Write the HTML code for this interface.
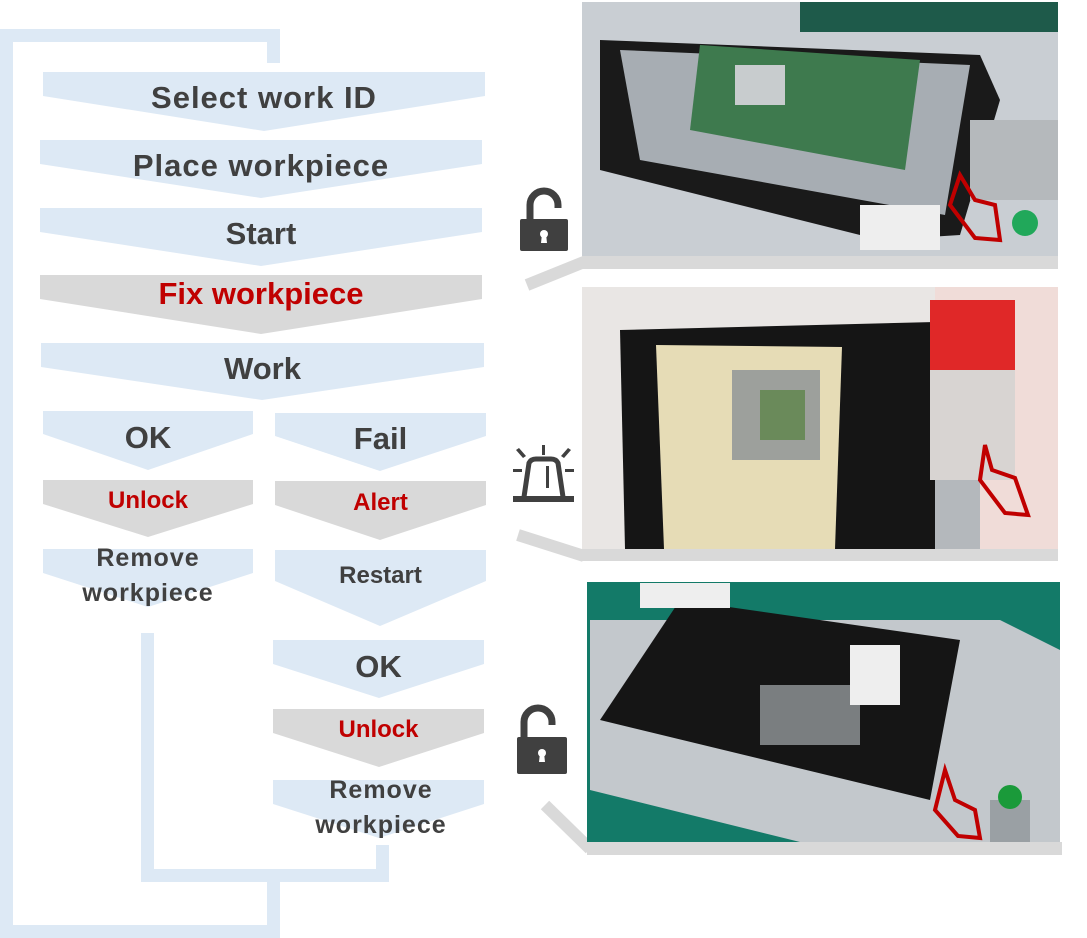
<!DOCTYPE html>
<html><head><meta charset="utf-8"><style>
body{margin:0;width:1087px;height:938px;background:#fff;overflow:hidden;position:relative;font-family:"Liberation Sans",sans-serif}
.c{position:absolute;display:flex;justify-content:center;font-weight:bold;color:#404040}
.b{position:absolute;background:#dde9f5}
</style></head><body>
<div class="b" style="left:0;top:29px;width:280px;height:13px"></div>
<div class="b" style="left:267px;top:29px;width:13px;height:34px"></div>
<div class="b" style="left:0;top:29px;width:13px;height:909px"></div>
<div class="b" style="left:0;top:925px;width:280px;height:13px"></div>
<div class="b" style="left:267px;top:869px;width:13px;height:69px"></div>
<div class="b" style="left:141px;top:633px;width:13px;height:249px"></div>
<div class="b" style="left:141px;top:869px;width:248px;height:13px"></div>
<div class="b" style="left:376px;top:845px;width:13px;height:37px"></div>

<svg width="1087" height="938" style="position:absolute;left:0;top:0">
<g fill="#dde9f5">
<polygon points="43,72 485,72 485,96 264,131 43,96"/>
<polygon points="40,140 482,140 482,164 261,198 40,164"/>
<polygon points="40,208 482,208 482,232 261,266 40,232"/>
<polygon points="41,343 484,343 484,367 262,400 41,367"/>
<polygon points="43,411 253,411 253,434 148,470 43,434"/>
<polygon points="275,413 486,413 486,436 380,471 275,436"/>
<polygon points="43,549 253,549 253,573 148,607 43,573"/>
<polygon points="275,550 486,550 486,581 380,626 275,581"/>
<polygon points="273,640 484,640 484,664 379,698 273,664"/>
<polygon points="273,780 484,780 484,804 379,838 273,804"/>
</g>
<g fill="#d9d9d9">
<polygon points="40,275 482,275 482,299 261,334 40,299"/>
<polygon points="43,480 253,480 253,504 148,537 43,504"/>
<polygon points="275,481 486,481 486,505 380,540 275,505"/>
<polygon points="273,709 484,709 484,733 379,767 273,733"/>
</g>
<g fill="#d9d9d9">
<rect x="582" y="256" width="476" height="13"/>
<rect x="582" y="549" width="476" height="12"/>
<rect x="587" y="842" width="475" height="13"/>
</g>
<g stroke="#d9d9d9" stroke-width="12" fill="none">
<line x1="527" y1="285" x2="584" y2="262"/>
<line x1="518" y1="535" x2="584" y2="556"/>
<polyline points="545,805 590,849"/>
</g>
<g>
<rect x="582" y="2" width="476" height="254" fill="#c9ced3"/>
<rect x="800" y="2" width="258" height="30" fill="#1e5a4a"/>
<polygon points="600,40 980,55 1000,100 960,235 880,240 600,170" fill="#1a1a1a"/>
<polygon points="620,50 970,65 945,215 640,160" fill="#a7adb3"/>
<polygon points="700,45 920,60 905,170 690,130" fill="#3e7a4e"/>
<rect x="735" y="65" width="50" height="40" fill="#c8ccce"/>
<rect x="970" y="120" width="88" height="80" fill="#b5b9bc"/>
<rect x="860" y="205" width="80" height="45" fill="#eeeeee"/>
<circle cx="1025" cy="223" r="13" fill="#21a85a"/>
<path d="M960,175 L975,200 L995,205 L1000,240 L975,238 L950,205Z" fill="none" stroke="#c00000" stroke-width="4"/>
</g>
<g>
<rect x="582" y="287" width="476" height="262" fill="#e9e6e4"/>
<polygon points="620,330 935,322 935,549 625,549" fill="#151515"/>
<polygon points="656,345 842,347 835,549 664,549" fill="#e6dcb6"/>
<rect x="732" y="370" width="88" height="90" fill="#9da09c"/>
<rect x="760" y="390" width="45" height="50" fill="#6a8a5a"/>
<rect x="935" y="287" width="123" height="262" fill="#f0dcd8"/>
<rect x="930" y="300" width="85" height="70" fill="#e02828"/>
<rect x="930" y="370" width="85" height="110" fill="#d8d4d2"/>
<rect x="935" y="480" width="45" height="69" fill="#b4b8bc"/>
<path d="M985,445 L992,470 L1015,478 L1028,515 L1005,513 L980,480Z" fill="none" stroke="#c00000" stroke-width="4"/>
</g>
<g>
<rect x="587" y="582" width="473" height="260" fill="#137a68"/>
<polygon points="590,620 1000,620 1060,650 1060,842 800,842 590,790" fill="#c3c8cc"/>
<polygon points="680,600 960,640 930,800 600,720" fill="#151515"/>
<rect x="640" y="583" width="90" height="25" fill="#eeeeee"/>
<rect x="760" y="685" width="100" height="60" fill="#7a7e80"/>
<rect x="850" y="645" width="50" height="60" fill="#eeeeee"/>
<rect x="990" y="800" width="40" height="42" fill="#9aa0a4"/>
<circle cx="1010" cy="797" r="12" fill="#1a9a3a"/>
<path d="M945,770 L955,800 L975,810 L980,838 L958,836 L935,810Z" fill="none" stroke="#c00000" stroke-width="4"/>
</g>
<!-- lock icons -->
<g fill="none" stroke="#404040" stroke-width="7">
<path d="M530,220 V205 a14,14 0 0 1 28,0 v3"/>
<path d="M524,737 V722 a14,14 0 0 1 28,0 v3"/>
</g>
<g fill="#404040">
<rect x="520" y="219" width="48" height="32" rx="2"/>
<rect x="517" y="737" width="50" height="37" rx="2"/>
<!-- alarm -->
<rect x="513" y="496" width="61" height="6"/>
<rect x="542" y="445" width="3" height="10"/>
<rect x="513" y="469" width="9" height="3"/><rect x="565" y="469" width="9" height="3"/>
<polygon points="516,450 519,448 526,456 523,458"/>
<polygon points="571,450 568,448 561,456 564,458"/>
</g>
<path d="M524,497 L529,463 Q531,459 536,459 H551 Q556,459 558,463 L563,497" fill="none" stroke="#404040" stroke-width="5"/>
<rect x="546" y="466" width="3" height="22" fill="#404040"/>
<g fill="#fff"><circle cx="544" cy="234" r="4"/><polygon points="542,234 546,234 547,243 541,243"/>
<circle cx="542" cy="753" r="4"/><polygon points="540,753 544,753 545,762 539,762"/></g>
</svg>

<div class="c" style="left:43px;top:80px;width:442px;font-size:31px;letter-spacing:1px">Select work ID</div>
<div class="c" style="left:40px;top:148px;width:442px;font-size:31px;letter-spacing:1px">Place workpiece</div>
<div class="c" style="left:40px;top:216px;width:442px;font-size:31px">Start</div>
<div class="c" style="left:40px;top:276px;width:442px;font-size:31px;color:#c00000">Fix workpiece</div>
<div class="c" style="left:41px;top:351px;width:443px;font-size:31px">Work</div>
<div class="c" style="left:43px;top:420px;width:210px;font-size:31px">OK</div>
<div class="c" style="left:275px;top:421px;width:211px;font-size:31px">Fail</div>
<div class="c" style="left:43px;top:487px;width:210px;font-size:24px;color:#c00000">Unlock</div>
<div class="c" style="left:275px;top:489px;width:211px;font-size:24px;color:#c00000">Alert</div>
<div class="c" style="left:43px;top:541px;width:210px;font-size:25px;line-height:35px;text-align:center;letter-spacing:1px">Remove<br>workpiece</div>
<div class="c" style="left:275px;top:562px;width:211px;font-size:24px">Restart</div>
<div class="c" style="left:273px;top:649px;width:211px;font-size:31px">OK</div>
<div class="c" style="left:273px;top:716px;width:211px;font-size:24px;color:#c00000">Unlock</div>
<div class="c" style="left:273px;top:773px;width:216px;font-size:25px;line-height:35px;text-align:center;letter-spacing:1px">Remove<br>workpiece</div>
</body></html>
